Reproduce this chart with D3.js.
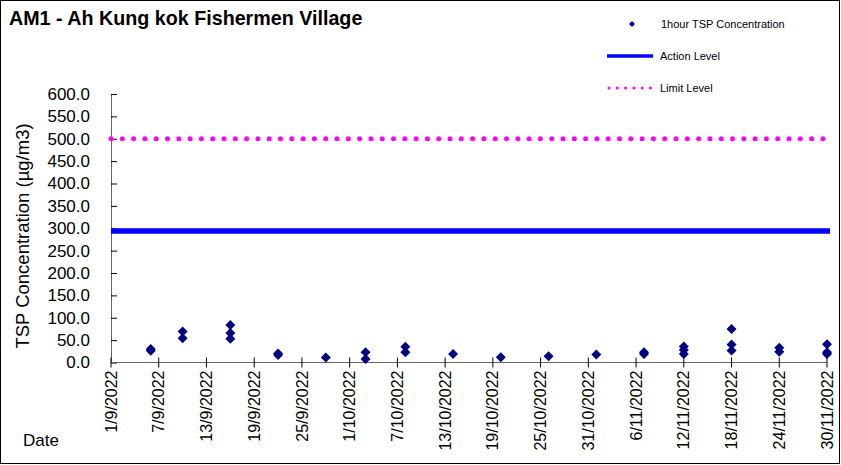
<!DOCTYPE html>
<html>
<head>
<meta charset="utf-8">
<script src="https://cdn.jsdelivr.net/npm/d3@7"></script>
<style>
	body { margin: 0; background: #fff; }
	svg { display: block; font-family: "Liberation Sans", Arial, sans-serif; }
</style>
</head>
<body>
<svg id="chart" width="841" height="465"></svg>
<script>
// x axis tick labels (every 6 days)
const tickDates = ["1/9/2022", "7/9/2022", "13/9/2022", "19/9/2022", "25/9/2022", "1/10/2022",
	"7/10/2022", "13/10/2022", "19/10/2022", "25/10/2022", "31/10/2022", "6/11/2022",
	"12/11/2022", "18/11/2022", "24/11/2022", "30/11/2022"];

const yTickValues = [0, 50, 100, 150, 200, 250, 300, 350, 400, 450, 500, 550, 600];

// 1 hour TSP readings
const sampleDates = ["6/9/2022", "6/9/2022", "10/9/2022", "10/9/2022",
	"16/9/2022", "16/9/2022", "16/9/2022", "22/9/2022", "22/9/2022", "28/9/2022",
	"3/10/2022", "3/10/2022", "8/10/2022", "8/10/2022", "14/10/2022", "20/10/2022",
	"26/10/2022", "1/11/2022", "7/11/2022", "7/11/2022", "12/11/2022", "12/11/2022", "12/11/2022",
	"18/11/2022", "18/11/2022", "18/11/2022", "24/11/2022", "24/11/2022",
	"30/11/2022", "30/11/2022", "30/11/2022"];
const tspValues = [26, 30, 69, 54,
	84, 66, 53, 17, 20, 11,
	23, 8, 35, 23, 19, 12,
	14, 18, 19, 23, 36, 28, 19,
	75, 40, 27, 33, 24,
	41, 23, 19];

const actionLevel = 294;
const limitLevel = 500;

const parseDate = d3.timeParse("%d/%m/%Y");

whenReady(() => {
	const svg = d3.select("#chart");

	// outer border
	svg.append("rect")
		.attr("x", 0.5).attr("y", 0.5)
		.attr("width", 839).attr("height", 463)
		.attr("fill", "none").attr("stroke", "#000");

	svg.append("text")
		.attr("x", 9).attr("y", 25)
		.attr("font-size", 19.7).attr("font-weight", "bold")
		.text("AM1 - Ah Kung kok Fishermen Village");

	const x = d3.scaleTime()
		.domain([parseDate(tickDates[0]), parseDate(tickDates[tickDates.length - 1])])
		.range([111, 827]);
	const y = d3.scaleLinear()
		.domain([0, 600])
		.range([362.5, 94]);

	// y axis, ticks point inward
	const yAxis = svg.append("g")
		.attr("transform", "translate(111,0)")
		.call(d3.axisLeft(y)
			.tickValues(yTickValues)
			.tickFormat(d3.format(".1f"))
			.tickSizeInner(-6)
			.tickSizeOuter(0)
			.tickPadding(21));
	yAxis.select(".domain").attr("stroke", "#666");
	yAxis.selectAll(".tick line").attr("stroke", "#000");
	yAxis.selectAll("text").attr("font-size", 17).attr("fill", "#000");
	yAxis.attr("font-family", null);

	// x axis: crossing ticks, rotated labels
	const xAxis = svg.append("g")
		.attr("transform", `translate(0,${y(0)})`);
	xAxis.append("line")
		.attr("x1", 111).attr("x2", 827)
		.attr("stroke", "#666");
	const xTick = xAxis.selectAll(".tick")
		.data(tickDates)
		.join("g")
		.attr("class", "tick")
		.attr("transform", d => `translate(${x(parseDate(d))},0)`);
	xTick.append("line")
		.attr("y1", -5).attr("y2", 5)
		.attr("stroke", "#000");
	xTick.append("text")
		.attr("transform", "translate(0,8) rotate(-90)")
		.attr("dy", "0.35em")
		.attr("text-anchor", "end")
		.attr("font-size", 16)
		.text(d => d);

	// axis titles
	svg.append("text")
		.attr("transform", "translate(29,236) rotate(-90)")
		.attr("text-anchor", "middle")
		.attr("font-size", 18.5)
		.text("TSP Concentration (µg/m3)");
	svg.append("text")
		.attr("x", 23).attr("y", 446)
		.attr("font-size", 17)
		.text("Date");

	// limit and action levels
	svg.append("line")
		.attr("x1", 111).attr("x2", 830)
		.attr("y1", y(limitLevel)).attr("y2", y(limitLevel))
		.attr("stroke", "#ff00ff").attr("stroke-width", 5)
		.attr("stroke-linecap", "round")
		.attr("stroke-dasharray", "0 11.3");
	svg.append("line")
		.attr("x1", 111).attr("x2", 830)
		.attr("y1", y(actionLevel)).attr("y2", y(actionLevel))
		.attr("stroke", "#0000ff").attr("stroke-width", 5.5);

	// readings
	const diamond = d3.symbol().type(d3.symbolSquare).size(50);
	svg.append("g")
		.selectAll("path")
		.data(sampleDates.map((d, i) => ({ date: parseDate(d), value: tspValues[i] })))
		.join("path")
		.attr("d", diamond)
		.attr("fill", "#000080")
		.attr("transform", d => `translate(${x(d.date)},${y(d.value)}) rotate(45)`);

	// legend
	const legend = svg.append("g").attr("font-size", 11);
	legend.append("path")
		.attr("d", d3.symbol().type(d3.symbolSquare).size(18))
		.attr("fill", "#000080")
		.attr("transform", "translate(632,24) rotate(45)");
	legend.append("text").attr("x", 661).attr("y", 28).text("1hour TSP Concentration");
	legend.append("line")
		.attr("x1", 607).attr("x2", 653).attr("y1", 56).attr("y2", 56)
		.attr("stroke", "#0000ff").attr("stroke-width", 3.5);
	legend.append("text").attr("x", 660).attr("y", 60).text("Action Level");
	legend.append("line")
		.attr("x1", 609).attr("x2", 655).attr("y1", 88).attr("y2", 88)
		.attr("stroke", "#ff00ff").attr("stroke-width", 3)
		.attr("stroke-linecap", "round")
		.attr("stroke-dasharray", "0 8.3");
	legend.append("text").attr("x", 660).attr("y", 92).text("Limit Level");
});

function whenReady(action) {
	if (document.readyState === "loading") {
		document.addEventListener("DOMContentLoaded", action);
	} else {
		action();
	}
}
</script>
</body>
</html>
